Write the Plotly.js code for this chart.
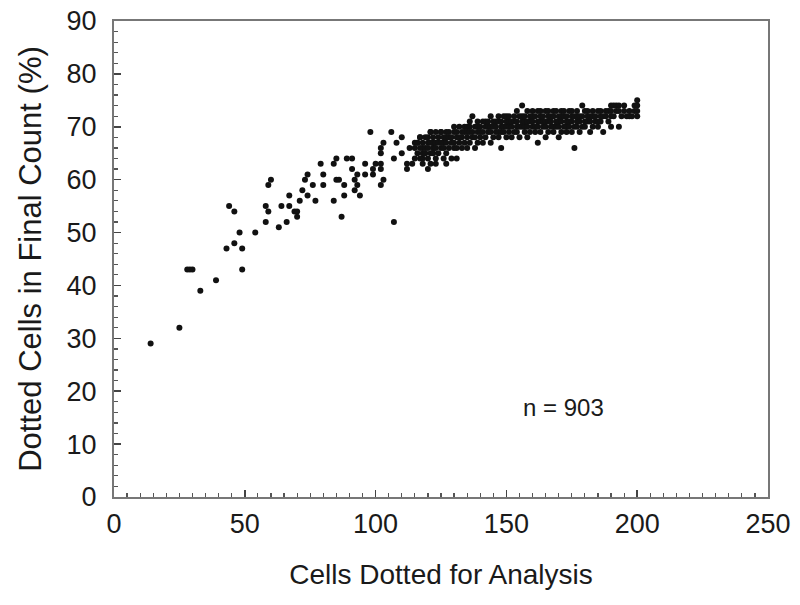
<!DOCTYPE html>
<html>
<head>
<meta charset="utf-8">
<script src="https://cdn.plot.ly/plotly-3.0.1.min.js"></script>
<style>
  body { margin: 0; background: #fff; }
  #chart { width: 800px; height: 605px; }
</style>
</head>
<body>
<div id="chart"></div>
<script>
// scattered points below the main band (cells dotted, % in final count)
let sparseX = [14, 25, 28, 29, 30, 33, 39, 43, 44, 46, 46, 48, 49, 49, 54, 58, 58, 59, 59, 60,
    63, 64, 66, 67, 67, 69, 70, 70, 71, 72, 73, 74, 74, 76, 77, 79, 80, 80, 84, 84,
    85, 85, 86, 87, 88, 88, 89, 91, 91, 92, 92, 93, 93, 94, 96, 96, 98, 99, 99, 100,
    102, 102, 102, 102, 102, 103, 103, 106, 107, 107, 108, 110, 110, 112, 112, 113, 114,
    116, 117, 118, 118, 120, 121, 122, 122, 123, 125, 126, 127];
let sparseY = [29, 32, 43, 43, 43, 39, 41, 47, 55, 54, 48, 50, 47, 43, 50, 52, 55, 54, 59, 60,
    51, 55, 52, 57, 55, 54, 54, 53, 56, 58, 60, 61, 57, 59, 56, 63, 61, 59, 56, 63,
    64, 60, 60, 53, 59, 57, 64, 64, 62, 60, 58, 61, 59, 57, 63, 61, 69, 62, 61, 63,
    66, 65, 63, 62, 59, 67, 60, 69, 64, 52, 67, 68, 65, 63, 62, 66, 63,
    67, 68, 66, 64, 62, 69, 67, 66, 63, 69, 67, 63];

// dense band: one x per column, several y values in that column
let bandX = [115, 116, 117, 118, 119, 120, 121, 122, 123, 124, 125, 126, 127, 128, 129, 130,
    131, 132, 133, 134, 135, 136, 137, 138, 139, 140, 141, 142, 143, 144, 145, 146, 147, 148,
    149, 150, 151, 152, 153, 154, 155, 156, 157, 158, 159, 160, 161, 162, 163, 164, 165, 166,
    167, 168, 169, 170, 171, 172, 173, 174, 175, 176, 177, 178, 179, 180, 181, 182, 183, 184,
    185, 186, 187, 188, 189, 190, 191, 192, 193, 194, 195, 196, 197, 198, 199, 200];
let bandY = [
    [64, 66, 67], [65, 67], [64, 66, 68], [63, 65, 67], [65, 66, 68], [64, 66, 67, 68],
    [63, 65, 67, 69], [65, 66, 68], [64, 66, 67, 69], [65, 67, 68], [66, 67, 69], [64, 66, 68],
    [65, 67, 68, 69], [66, 68, 69], [64, 67, 68], [66, 67, 69, 70], [64, 66, 68, 69], [67, 68, 70],
    [66, 68, 69], [67, 69, 70], [66, 68, 69, 70], [67, 69, 70, 71], [68, 69, 72], [66, 68, 70],
    [67, 69, 70, 71], [68, 69, 70], [67, 69, 71], [68, 70, 71], [69, 70, 71], [67, 69, 70, 72],
    [68, 70, 71], [69, 70, 71], [68, 69, 71, 72], [66, 69, 70, 71], [69, 70, 72], [68, 70, 71, 72],
    [69, 70, 71, 72], [68, 70, 71], [69, 71, 72], [69, 70, 71, 73], [68, 70, 72], [70, 71, 72, 74],
    [69, 70, 71, 72], [68, 70, 71, 73], [69, 71, 72], [70, 71, 72, 73], [69, 70, 72], [67, 70, 71, 73],
    [69, 71, 72, 73], [70, 71, 72], [68, 70, 71, 73], [69, 71, 72, 73], [70, 71, 72], [69, 70, 72, 73],
    [70, 71, 73], [68, 70, 71, 72], [69, 71, 72, 73], [70, 72, 73], [69, 70, 71, 72], [70, 71, 73],
    [69, 71, 72, 73], [66, 70, 72], [70, 71, 72, 73], [69, 71, 72], [70, 72, 74], [70, 71, 73],
    [71, 72, 73], [69, 71, 72], [70, 72, 73], [71, 72], [70, 71, 73], [71, 72, 73], [69, 72],
    [72, 73], [71, 73], [70, 72, 73, 74], [72, 74], [73, 74], [70, 73, 74], [72], [73, 74], [72],
    [72, 73], [72], [73, 74], [72, 73, 74, 75]];

let xs = sparseX.slice();
let ys = sparseY.slice();
for (let i = 0; i < bandX.length; i++) {
    for (let j = 0; j < bandY[i].length; j++) {
        xs.push(bandX[i]);
        ys.push(bandY[i][j]);
    }
}

let fnt = 'Liberation Sans, Arial, sans-serif';

let layout = {
    width: 800,
    height: 605,
    margin: {l: 114, r: 32, t: 21, b: 108},
    paper_bgcolor: '#fff',
    plot_bgcolor: '#fff',
    showlegend: false,
    font: {family: fnt, size: 24, color: '#1a1a1a'},
    xaxis: {
        range: [0, 250],
        dtick: 50,
        tick0: 0,
        ticks: 'inside',
        ticklen: 7,
        tickwidth: 1.5,
        tickcolor: '#444',
        minor: {dtick: 5, ticks: 'inside', ticklen: 4, tickwidth: 1.2, tickcolor: '#555'},
        showgrid: false,
        zeroline: false,
        showline: true,
        mirror: true,
        linecolor: '#777',
        linewidth: 2,
        tickfont: {size: 27},
        ticklabelstandoff: 2,
        title: {text: 'Cells Dotted for Analysis', font: {size: 28}, standoff: 26}
    },
    yaxis: {
        range: [0, 90],
        dtick: 10,
        tick0: 0,
        ticks: 'inside',
        ticklen: 7,
        tickwidth: 1.5,
        tickcolor: '#444',
        minor: {dtick: 2, ticks: 'inside', ticklen: 4, tickwidth: 1.2, tickcolor: '#555'},
        showgrid: false,
        zeroline: false,
        showline: true,
        mirror: true,
        linecolor: '#777',
        linewidth: 2,
        tickfont: {size: 27},
        ticklabelstandoff: 10,
        title: {text: 'Dotted Cells in Final Count (%)', font: {size: 31}, standoff: 16}
    },
    annotations: [{
        x: 172, y: 17, xref: 'x', yref: 'y',
        text: 'n = 903', showarrow: false,
        font: {size: 24, color: '#1a1a1a'}
    }]
};

Plotly.newPlot('chart', [{
    type: 'scatter',
    mode: 'markers',
    x: xs,
    y: ys,
    marker: {color: '#111', size: 6}
}], layout, {staticPlot: true});
</script>
</body>
</html>
